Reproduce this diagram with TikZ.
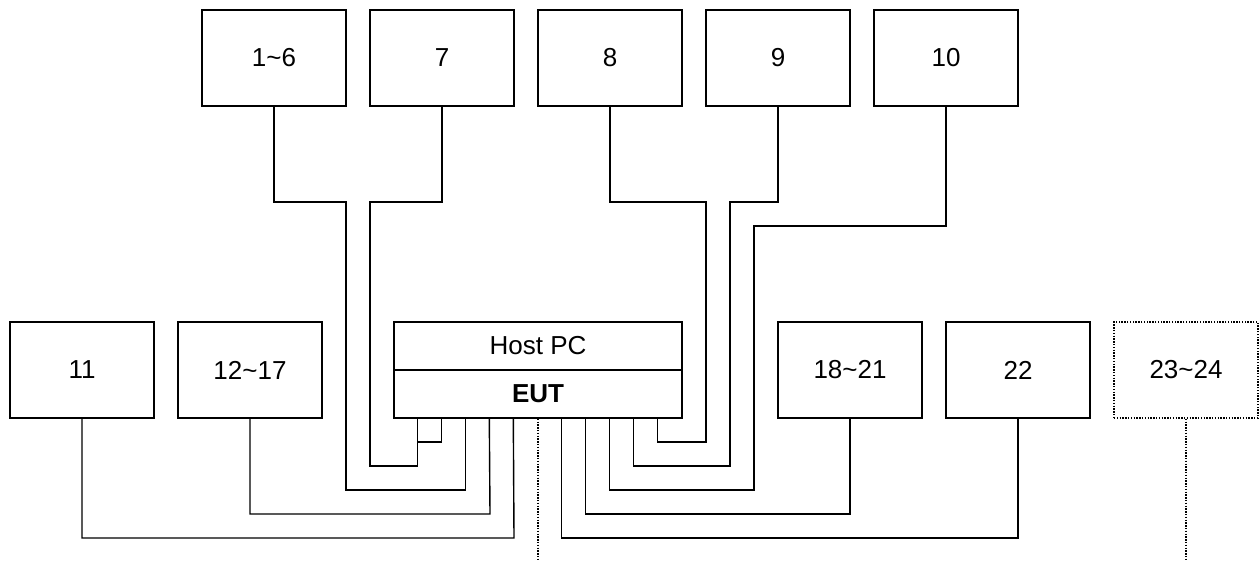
\documentclass[tikz,border=0pt]{standalone}
\usepackage{fontspec}
\setmainfont{Liberation Sans}
\begin{document}
\begin{tikzpicture}[x=1pt,y=-1pt,
  wire/.style={line width=1.4pt, line join=miter},
  dotwire/.style={line width=1.4pt, dash pattern=on 1.4pt off 1.4pt},
  unit/.style={draw, line width=1.4pt, minimum width=144pt, minimum height=96pt, inner sep=0pt,
    font=\fontsize{26pt}{30pt}\selectfont},
  optunit/.style={unit, solid, dash pattern=on 1.4pt off 1.4pt},
  half/.style={draw, line width=1.4pt, minimum width=288pt, minimum height=48pt, inner sep=0pt,
    font=\fontsize{26pt}{30pt}\selectfont}]
\useasboundingbox (0,0) rectangle (1260,561);
% top row
\node[unit] (b16) at (274,58) {1\textasciitilde 6};
\node[unit] (b7)  at (442,58) {7};
\node[unit] (b8)  at (610,58) {8};
\node[unit] (b9)  at (778,58) {9};
\node[unit] (b10) at (946,58) {10};
% bottom row
\node[unit] (b11)   at (82,370)  {11};
\node[unit] (b1217) at (250,370) {12\textasciitilde 17};
\node[half] (host)  at (538,346) {Host PC};
\node[half] (eut)   at (538,394) {\bfseries EUT};
\node[unit] (b1821) at (850,370) {18\textasciitilde 21};
\node[unit] (b22)   at (1018,370) {22};
\node[optunit] (b2324) at (1186,370) {23\textasciitilde 24};
\coordinate (endA) at (538,561);
\coordinate (endB) at (1186,561);
% left connectors
\draw[wire] (b16.south) |- (346,202) -- (346,490) -| ([xshift=72pt]eut.south west);
\draw[wire] (b7.south) |- (370,202) -- (370,466) -| ([xshift=24pt]eut.south west);
\draw[wire] ([xshift=48pt]eut.south west) |- ([xshift=24pt]eut.south west |- 0,442);
\draw[wire] (b1217.south) |- (490,514) -- ([xshift=96pt]eut.south west);
\draw[wire] (b11.south) |- (514,538) -- ([xshift=120pt]eut.south west);
% right connectors
\draw[wire] ([xshift=168pt]eut.south west) |- (b22.south |- 0,538) -- (b22.south);
\draw[wire] ([xshift=192pt]eut.south west) |- (b1821.south |- 0,514) -- (b1821.south);
\draw[wire] ([xshift=216pt]eut.south west) |- (754,490) -- (754,226) -| (b10.south);
\draw[wire] ([xshift=240pt]eut.south west) |- (730,466) -- (730,202) -| (b9.south);
\draw[wire] ([xshift=264pt]eut.south west) |- (706,442) -- (706,202) -| (b8.south);
% dotted
\draw[dotwire] (eut.south) -- (endA);
\draw[dotwire] (b2324.south) -- (endB);
\end{tikzpicture}
\end{document}
